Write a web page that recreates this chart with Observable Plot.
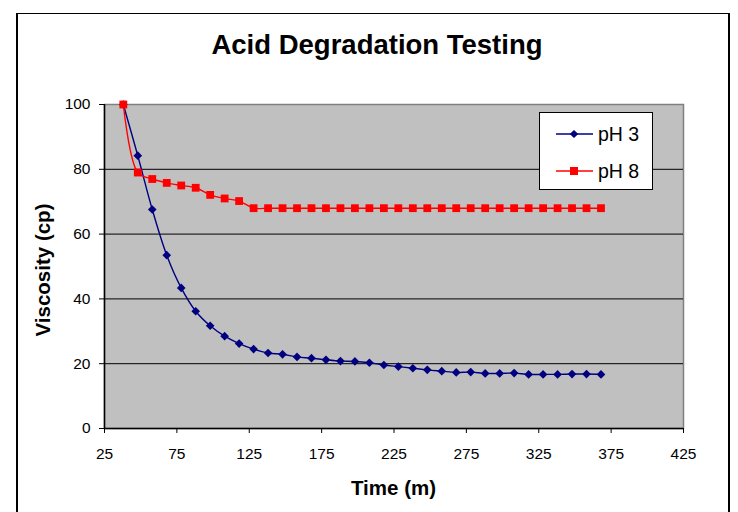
<!DOCTYPE html>
<html>
<head>
<meta charset="utf-8">
<script src="https://cdn.jsdelivr.net/npm/d3@7"></script>
<script src="https://cdn.jsdelivr.net/npm/@observablehq/plot@0.6"></script>
<style>
  html, body { margin: 0; padding: 0; background: #fff; }
  #wrap { position: relative; width: 738px; height: 512px; overflow: hidden; font-family: "Liberation Sans", Arial, sans-serif; color: #000; }
  #border { position: absolute; left: 16px; top: 13px; width: 714px; height: 520px; border-left: 2px solid #000; border-right: 2px solid #000; border-top: 1px solid #000; box-sizing: border-box; }
  #title { position: absolute; left: 0; width: 754px; top: 30px; text-align: center; font-weight: bold; font-size: 27.5px; line-height: 30px; white-space: nowrap; }
  #xlabel { position: absolute; left: 104px; width: 579px; top: 476px; text-align: center; font-weight: bold; font-size: 20.5px; line-height: 24px; white-space: nowrap; }
  #ylabel { position: absolute; left: 43px; top: 270px; transform: translate(-50%, -50%) rotate(-90deg); font-weight: bold; font-size: 20.5px; line-height: 24px; white-space: nowrap; }
  #plot { position: absolute; left: 0; top: 0; }
  #legend { position: absolute; left: 539px; top: 112px; width: 114px; height: 78px; background: #fff; border: 1px solid #000; box-sizing: border-box; }
  .row { position: absolute; left: 16px; height: 24px; display: flex; align-items: center; font-size: 19.5px; white-space: nowrap; }
  .row svg { margin-right: 5px; }
</style>
</head>
<body>
<div id="wrap">
  <div id="border"></div>
  <div id="plot"></div>
  <div id="title">Acid Degradation Testing</div>
  <div id="xlabel">Time (m)</div>
  <div id="ylabel">Viscosity (cp)</div>
  <div id="legend"></div>
</div>
<script>
const times = [38, 48, 58, 68, 78, 88, 98, 108, 118, 128, 138, 148, 158, 168, 178, 188, 198, 208, 218, 228, 238, 248, 258, 268, 278, 288, 298, 308, 318, 328, 338, 348, 358, 368];
const pH3 = [100, 84.2, 67.6, 53.5, 43.4, 36.2, 31.7, 28.5, 26.2, 24.5, 23.3, 22.9, 22.1, 21.7, 21.2, 20.8, 20.7, 20.3, 19.6, 19.1, 18.6, 18.1, 17.7, 17.3, 17.4, 17.0, 17.0, 17.1, 16.7, 16.7, 16.7, 16.8, 16.8, 16.7];
const pH8 = [100, 79, 77, 75.8, 75, 74.3, 72.1, 71, 70.2, 68, 68, 68, 68, 68, 68, 68, 68, 68, 68, 68, 68, 68, 68, 68, 68, 68, 68, 68, 68, 68, 68, 68, 68, 68];
const seriesNames = ["pH 3", "pH 8"];
const seriesColors = ["#000080", "#ff0000"];
const xTicks = [25, 75, 125, 175, 225, 275, 325, 375, 425];
const yTicks = [0, 20, 40, 60, 80, 100];
const yGrid = [20, 40, 60, 80];

const rows3 = times.map((t, i) => ({t, v: pH3[i]}));
const rows8 = times.map((t, i) => ({t, v: pH8[i]}));

const chart = Plot.plot({
  width: 738,
  height: 512,
  marginLeft: 104,
  marginRight: 55,
  marginTop: 104,
  marginBottom: 84,
  style: {fontFamily: "'Liberation Sans', Arial, sans-serif", fontSize: "15.5px", background: "transparent", color: "#000"},
  x: {domain: [25, 425], label: null},
  y: {domain: [0, 100], label: null},
  marks: [
    Plot.frame({fill: "#c0c0c0", stroke: "#808080", strokeWidth: 1.5}),
    Plot.ruleY(yGrid, {stroke: "#000", strokeWidth: 1}),
    Plot.ruleX([25], {stroke: "#000", strokeWidth: 1.5}),
    Plot.ruleY([0], {stroke: "#000", strokeWidth: 1.5}),
    Plot.axisX({ticks: xTicks, tickSize: 5, tickPadding: 14, label: null, stroke: "#000", fill: "#000"}),
    Plot.axisY({ticks: yTicks, tickSize: 5, tickPadding: 9, label: null, stroke: "#000", fill: "#000"}),
    Plot.line(rows3, {x: "t", y: "v", stroke: seriesColors[0], strokeWidth: 1.4, curve: "catmull-rom"}),
    Plot.dot(rows3, {x: "t", y: "v", symbol: "diamond2", r: 3.9, fill: seriesColors[0], stroke: "none"}),
    Plot.line(rows8, {x: "t", y: "v", stroke: seriesColors[1], strokeWidth: 1.4, curve: "catmull-rom"}),
    Plot.dot(rows8, {x: "t", y: "v", symbol: "square", r: 4.4, fill: seriesColors[1], stroke: "none"})
  ]
});
document.getElementById("plot").appendChild(chart);

// legend
const legend = document.getElementById("legend");
seriesNames.forEach((name, i) => {
  const row = document.createElement("div");
  row.className = "row";
  row.style.top = (i === 0 ? 9 : 46) + "px";
  const marker = i === 0
    ? `<path d="M18,1 L22.2,5 L18,9 L13.8,5 Z" fill="${seriesColors[i]}"/>`
    : `<rect x="14" y="1" width="8" height="8" fill="${seriesColors[i]}"/>`;
  row.innerHTML = `<svg width="37" height="10"><line x1="0" x2="37" y1="5" y2="5" stroke="${seriesColors[i]}" stroke-width="1.4"/>${marker}</svg><span>${name}</span>`;
  legend.appendChild(row);
});
</script>
</body>
</html>
